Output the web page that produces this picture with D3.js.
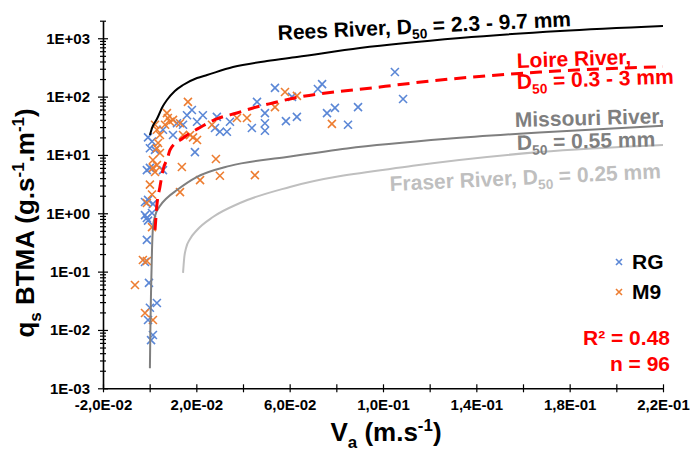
<!DOCTYPE html>
<html>
<head>
<meta charset="utf-8">
<script src="https://cdn.jsdelivr.net/npm/d3@7/dist/d3.min.js"></script>
<style>
  body { margin: 0; background: #fff; }
  svg { font-family: Arial, "Liberation Sans", sans-serif; font-weight: bold; }
</style>
</head>
<body>
<div id="chart"></div>
<script>
// measured points, [Va (m/s), qs (g/s/m)]
const rgPoints = [
  [0.1051,264],[0.1086,91],[0.0739,164],[0.0721,135],[0.0610,99],[0.0584,38],[0.0631,45],[0.0760,52],[0.0794,64],[0.0893,66],[0.0850,33],
  [0.0537,141],[0.0460,81],[0.0494,52],[0.0494,35],[0.0494,26],[0.0438,29],[0.0344,37],[0.0288,45],[0.0331,25],[0.0301,25],
  [0.0280,29],[0.0228,48],[0.0203,37],[0.0181,59],[0.0160,48],[0.0143,33],[0.0100,22],[0.0194,11.2],[0.0057,27],
  [-0.0007,20],[0.0010,17],[0.0023,12.2],[0.0001,13],[-0.0012,5.5],[0.0001,6.0],[0.0057,5.5],[-0.0020,1.56],[-0.0007,1.7],[-0.0020,0.93],
  [0.0014,1.45],[-0.0012,0.83],[-0.0007,0.75],[0.0010,1.01],[-0.0012,0.35],[-0.0020,0.146],[-0.0003,0.064],[0.0031,0.029],
  [0.0001,0.024],[-0.0007,0.0148],[0.0014,0.0082],[0.0006,0.0067],[0.0117,35]
];
const m9Points = [
  [0.0580,120],[0.0631,103],[0.0781,34],[0.0537,66],[0.0417,43],[0.0374,43],[0.0267,33],[0.0164,81],[0.0074,52],[0.0078,43],
  [0.0087,37],[0.0066,33],[0.0100,40],[0.0130,35],[0.0203,18],[0.0173,22],[0.0186,20],[0.0143,22],[0.0023,33],[0.0031,27],
  [0.0044,22],[0.0036,16],[0.0031,13],[0.0044,10.8],[0.0014,8.2],[0.0031,6.7],[0.0014,6.0],[0.0023,5.1],[0.0284,8.5],[0.0138,6.2],
  [0.0216,3.7],[0.0301,4.4],[0.0451,4.5],[0.0130,2.3],[0.0001,3.1],[0.0010,2.1],[-0.0012,1.5],[0.0010,0.58],[-0.0029,0.158],[-0.0012,0.152],
  [-0.0063,0.059],[-0.0020,0.0195],[0.0014,0.0148]
];

// reference rivers
const reesCurve = [[0.0001,21.9],[0.0010,28.9],[0.0031,41.2],[0.0057,68.9],[0.0074,87.4],[0.0108,125],[0.0143,158],[0.0203,208],
  [0.0246,235],[0.0357,321],[0.0503,407],[0.0631,477],[0.0901,680],[0.1330,1010],[0.1759,1330],[0.2200,1620]];
const loireCurve = [[0.0023,0.52],[0.0031,1.39],[0.0044,2.82],[0.0057,5.5],[0.0078,9.2],[0.0087,12.2],[0.0143,19.5],[0.0216,29.6],
  [0.0288,41.4],[0.0374,52.4],[0.0443,63.8],[0.0528,77.8],[0.0601,91.2],[0.0987,146],[0.1128,171],[0.1673,264],[0.2200,325]];
const missouriCurve = [[0.0001,0.0022],[0.0003,0.01],[0.0006,0.048],[0.0010,0.234],[0.0014,0.56],[0.0023,0.90],[0.0044,1.33],
  [0.0074,1.83],[0.0117,2.5],[0.0203,4.2],[0.0344,6.5],[0.0588,9.2],[0.0846,12.9],[0.1275,18.9],[0.1670,24.3],[0.2200,31.5]];
const fraserCurve = [[0.0143,0.095],[0.0148,0.171],[0.0156,0.254],[0.0173,0.362],[0.0203,0.517],[0.0271,0.863],[0.0387,1.50],
  [0.0601,2.83],[0.1128,6.5],[0.1672,11.2],[0.2200,14.8]];

const xTicks = d3.range(0, 13).map(i => -0.02 + 0.02 * i);
const yDecades = [1e-3, 1e-2, 1e-1, 1e0, 1e1, 1e2, 1e3];

const width = 690, height = 451;
const blue = "#5b87d6", orange = "#ed7d31";

let svg = d3.select("#chart").append("svg")
  .attr("width", width)
  .attr("height", height);

let x = d3.scaleLinear().domain([-0.02, 0.22]).range([103, 663]);
let y = d3.scaleLog().domain([1e-3, 2e3]).range([388.3, 20.7]);

// text with sub/superscripts, parts = [[text, "sub"|"sup"|null], ...]
function richText(sel, parts, size) {
  let shift = 0;
  parts.forEach(function(p) {
    let target = p[1] === "sub" ? size * 0.25 : p[1] === "sup" ? -size * 0.38 : 0;
    sel.append("tspan")
      .attr("dy", target - shift)
      .attr("font-size", p[1] ? size * 0.65 : size)
      .text(p[0]);
    shift = target;
  });
  return sel;
}

function fmtX(d) {
  let parts = d.toExponential(1).split("e");
  let e = +parts[1];
  return parts[0].replace(".", ",") + "E" + (e < 0 ? "-" : "+") + String(Math.abs(e)).padStart(2, "0");
}

function fmtY(d) {
  let e = Math.round(Math.log10(d));
  return "1E" + (e < 0 ? "-" : "+") + String(Math.abs(e)).padStart(2, "0");
}

function isDecade(d) {
  return Math.abs(Math.log10(d) - Math.round(Math.log10(d))) < 1e-9;
}

// y axis ticks: decades plus 2..9 minors
let yMinor = [];
for (let e = -3; e <= 2; e++) {
  for (let m = 2; m <= 9; m++) yMinor.push(m * Math.pow(10, e));
}
yMinor.push(2000);

let yAxis = svg.append("g")
  .attr("transform", "translate(103,0)")
  .call(d3.axisLeft(y)
    .tickValues(yDecades.concat(yMinor))
    .tickFormat(d => isDecade(d) ? fmtY(d) : "")
    .tickSizeOuter(0));

yAxis.select(".domain").attr("stroke", "#000").attr("stroke-width", 1.6);
yAxis.selectAll(".tick line")
  .attr("stroke", "#000")
  .attr("stroke-width", 1.2)
  .attr("x1", d => isDecade(d) ? -5 : -3)
  .attr("x2", d => isDecade(d) ? 5 : 3);
yAxis.selectAll(".tick text")
  .attr("x", -13)
  .attr("font-size", 15)
  .attr("font-family", "Arial, 'Liberation Sans', sans-serif")
  .attr("font-weight", "bold")
  .attr("fill", "#000");

let xAxis = svg.append("g")
  .attr("transform", "translate(0," + y(1e-3) + ")")
  .call(d3.axisBottom(x)
    .tickValues(xTicks)
    .tickFormat((d, i) => i % 2 === 0 ? fmtX(d) : "")
    .tickSizeOuter(0));

xAxis.select(".domain").attr("stroke", "#000").attr("stroke-width", 1.6);
xAxis.selectAll(".tick line")
  .attr("stroke", "#000")
  .attr("stroke-width", 1.2)
  .attr("y1", -4)
  .attr("y2", 4);
xAxis.selectAll(".tick text")
  .attr("y", 11)
  .attr("font-size", 15)
  .attr("font-family", "Arial, 'Liberation Sans', sans-serif")
  .attr("font-weight", "bold")
  .attr("fill", "#000");

// axis titles
richText(svg.append("text")
  .attr("transform", "translate(34,223) rotate(-90)")
  .attr("text-anchor", "middle"),
  [["q"], ["s", "sub"], [" BTMA (g.s"], ["-1", "sup"], [".m"], ["-1", "sup"], [")"]], 26);

richText(svg.append("text")
  .attr("x", 386)
  .attr("y", 441)
  .attr("text-anchor", "middle"),
  [["V"], ["a", "sub"], [" (m.s"], ["-1", "sup"], [")"]], 26);

// scatter points
function cross(g, data, color, r) {
  g.selectAll("path")
    .data(data)
    .enter().append("path")
      .attr("transform", d => "translate(" + x(d[0]) + "," + y(d[1]) + ")")
      .attr("d", "M" + -r + "," + -r + "L" + r + "," + r + "M" + -r + "," + r + "L" + r + "," + -r)
      .attr("stroke", color)
      .attr("stroke-width", 1.6)
      .attr("fill", "none");
}

cross(svg.append("g").attr("class", "rg"), rgPoints, blue, 4);
cross(svg.append("g").attr("class", "m9"), m9Points, orange, 4);

// reference curves
let line = d3.line()
  .x(d => x(d[0]))
  .y(d => y(d[1]))
  .curve(d3.curveMonotoneX);

svg.append("path").attr("d", line(fraserCurve))
  .attr("fill", "none").attr("stroke", "#bfbfbf").attr("stroke-width", 2);
svg.append("path").attr("d", line(missouriCurve))
  .attr("fill", "none").attr("stroke", "#7f7f7f").attr("stroke-width", 2);
svg.append("path").attr("d", line(reesCurve))
  .attr("fill", "none").attr("stroke", "#000").attr("stroke-width", 2);
svg.append("path").attr("d", line(loireCurve))
  .attr("fill", "none").attr("stroke", "#ff0000").attr("stroke-width", 3)
  .attr("stroke-dasharray", "12,7");

// curve labels
function label(tx, ty, angle, color, parts) {
  return richText(svg.append("text")
    .attr("transform", "translate(" + tx + "," + ty + ") rotate(" + angle + ")")
    .attr("fill", color), parts, 21);
}

label(278, 40, -2.7, "#000", [["Rees River, D"], ["50", "sub"], [" = 2.3 - 9.7 mm"]]);
label(517, 68, -2, "#ff0000", [["Loire River,"]]);
label(517, 89, -2, "#ff0000", [["D"], ["50", "sub"], [" = 0.3 - 3 mm"]]);
label(515, 127, -1.5, "#7f7f7f", [["Missouri River,"]]);
label(517, 150, -1.5, "#7f7f7f", [["D"], ["50", "sub"], [" = 0.55 mm"]]);
label(390, 191, -2.7, "#bfbfbf", [["Fraser River, D"], ["50", "sub"], [" = 0.25 mm"]]);

// legend
let legend = svg.append("g");
[["RG", blue, 262], ["M9", orange, 292]].forEach(function(l) {
  legend.append("path")
    .attr("transform", "translate(619," + l[2] + ")")
    .attr("d", "M-3,-3L3,3M-3,3L3,-3")
    .attr("stroke", l[1])
    .attr("stroke-width", 1.6);
  legend.append("text")
    .attr("x", 632)
    .attr("y", l[2] + 7)
    .attr("font-size", 21)
    .attr("fill", "#000")
    .text(l[0]);
});

svg.append("text")
  .attr("x", 670).attr("y", 345)
  .attr("text-anchor", "end")
  .attr("font-size", 21)
  .attr("fill", "#ff0000")
  .text("R² = 0.48");
svg.append("text")
  .attr("x", 670).attr("y", 371)
  .attr("text-anchor", "end")
  .attr("font-size", 21)
  .attr("fill", "#ff0000")
  .text("n = 96");
</script>
</body>
</html>
